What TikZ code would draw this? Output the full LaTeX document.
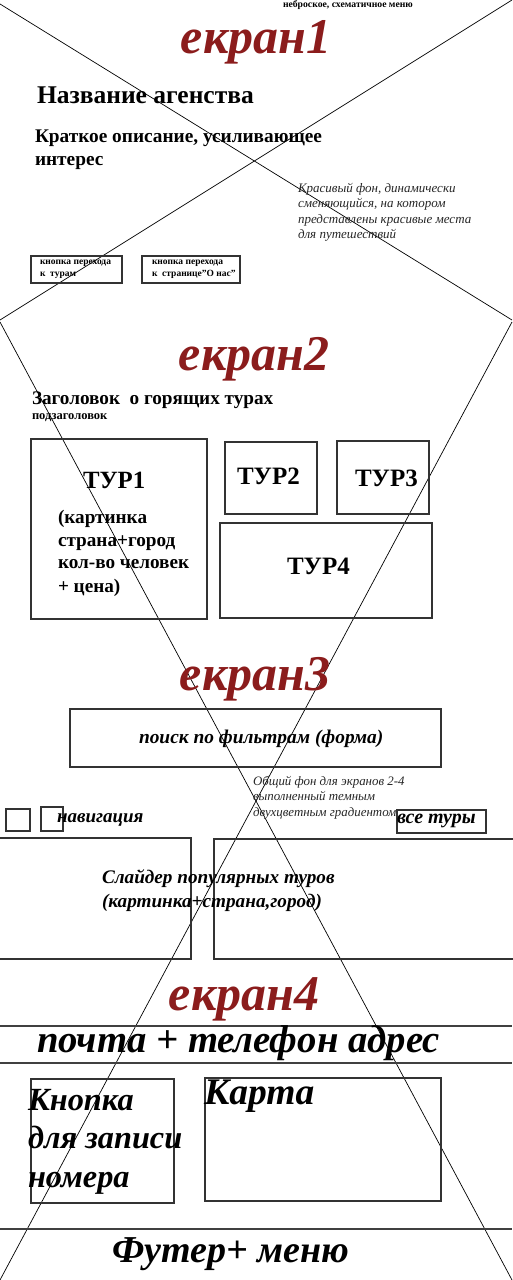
\documentclass[tikz,border=0pt]{standalone}
\usepackage{fontspec}
\setmainfont{Liberation Serif}
\definecolor{scrred}{HTML}{8B1C1C}
\begin{document}
\begin{tikzpicture}[x=1pt,y=-1pt,
  every node/.style={inner sep=0pt,outer sep=0pt},
  scrtitle/.style={anchor=base,text=scrred,font=\fontsize{50}{56}\selectfont\bfseries\itshape},
  boxline/.style={draw=black!80,line width=1.2pt},
  crossline/.style={draw=black,line width=0.7pt},
  sepline/.style={draw=black!75,line width=1.2pt},
  lbl/.style={anchor=base west},
  bf/.style 2 args={lbl,font=\fontsize{#1}{#2}\selectfont\bfseries},
  bi/.style 2 args={lbl,font=\fontsize{#1}{#2}\selectfont\bfseries\itshape},
  it/.style 2 args={lbl,text=black!85,font=\fontsize{#1}{#2}\selectfont\itshape}]
\useasboundingbox[fill=white] (0,0) rectangle (512,1280);

% cross lines
\coordinate (x1a) at (0,4);
\coordinate (x1b) at (512,320);
\coordinate (x1c) at (512,0);
\coordinate (x1d) at (0,320);
\coordinate (x2a) at (0,322);
\coordinate (x2b) at (512,1280);
\coordinate (x2c) at (512,322);
\coordinate (x2d) at (0,1280);
\draw[crossline] (x1a) -- (x1b);
\draw[crossline] (x1c) -- (x1d);
\draw[crossline] (x2a) -- (x2b);
\draw[crossline] (x2c) -- (x2d);

% screen 1
\node[bf={9.7}{11}] (menu) at (283,7) {неброское, схематичное меню};
\node[scrtitle] (s1) at (256,53) {екран1};
\node[bf={25.5}{28}] (name) at (37,103) {Название агенства};
\node[bf={19.3}{23}] (desc1) at (35,142) {Краткое описание, усиливающее};
\node[bf={19.3}{23}] (desc2) at (35,165) {интерес};
\node[it={13}{15}] (bg1) at (298,192) {Красивый фон, динамически};
\node[it={13}{15}] (bg2) at (298,207) {сменяющийся, на котором};
\node[it={13}{15}] (bg3) at (298,223) {представлены красивые места};
\node[it={13}{15}] (bg4) at (298,238) {для путешествий};
\draw[boxline] (31,256) rectangle (122,283);
\draw[boxline] (142,256) rectangle (240,283);
\node[bf={9.5}{11}] (b1a) at (40,264) {кнопка перехода};
\node[bf={9.5}{11}] (b1b) at (40,276) {к\ \ турам};
\node[bf={9.5}{11}] (b2a) at (152,264) {кнопка перехода};
\node[bf={9.5}{11}] (b2b) at (152,276) {к\ \ странице"О нас"};

% screen 2
\node[scrtitle] (s2) at (254,370) {екран2};
\node[bf={19.2}{22}] (hot) at (32,404) {Заголовок\ \ о горящих турах};
\node[bf={12.5}{14}] (sub) at (32,419) {подзаголовок};
\draw[boxline] (31,439) rectangle (207,619);
\node[bf={24.8}{28}] (t1) at (83,488) {ТУР1};
\node[bf={19.2}{22}] (t1a) at (58,523) {(картинка};
\node[bf={19.2}{22}] (t1b) at (58,546) {страна+город};
\node[bf={19.2}{22}] (t1c) at (58,568) {кол-во человек};
\node[bf={19.2}{22}] (t1d) at (58,592) {+ цена)};
\draw[boxline] (225,442) rectangle (317,514);
\node[bf={25}{28}] (t2) at (237,484) {ТУР2};
\draw[boxline] (337,441) rectangle (429,514);
\node[bf={25}{28}] (t3) at (355,486) {ТУР3};
\draw[boxline] (220,523) rectangle (432,618);
\node[bf={25}{28}] (t4) at (287,574) {ТУР4};

% screen 3
\node[scrtitle] (s3) at (255,690) {екран3};
\draw[boxline] (70,709) rectangle (441,767);
\node[bi={19.4}{24}] (search) at (139,743) {поиск по фильтрам (форма)};
\node[it={12.9}{15}] (gr1) at (253,785) {Общий фон для экранов 2-4};
\node[it={12.9}{15}] (gr2) at (253,800) {выполненный темным};
\node[it={12.9}{15}] (gr3) at (253,816) {двухцветным градиентом};
\draw[boxline] (6,809) rectangle (30,831);
\draw[boxline] (41,807) rectangle (63,831);
\node[bi={19}{22}] (nav) at (57,822) {навигация};
\draw[boxline] (397,810) rectangle (486,833);
\node[bi={20}{22}] (all) at (397,823) {все туры};
\draw[boxline] (-5,838) rectangle (191,959);
\draw[boxline] (214,839) rectangle (520,959);
\node[bi={19.2}{24}] (sl1) at (102,883) {Слайдер популярных туров};
\node[bi={19.2}{24}] (sl2) at (102,907) {(картинка+страна,город)};

% screen 4
\node[scrtitle] (s4) at (244,1010) {екран4};
\draw[sepline] (0,1026) -- (512,1026);
\draw[sepline] (0,1063) -- (512,1063);
\draw[sepline] (0,1229) -- (512,1229);
\node[bi={38.7}{42}] (mail) at (37,1052) {почта + телефон адрес};
\draw[boxline] (31,1079) rectangle (174,1203);
\node[bi={32.3}{38}] (k1) at (28,1110) {Кнопка};
\node[bi={32.3}{38}] (k2) at (28,1148) {для записи};
\node[bi={32.3}{38}] (k3) at (28,1187) {номера};
\draw[boxline] (205,1078) rectangle (441,1201);
\node[bi={37.5}{40}] (map) at (204,1104) {Карта};
\node[bi={38}{42}] (foot) at (112,1262) {Футер+ меню};
\end{tikzpicture}
\end{document}
